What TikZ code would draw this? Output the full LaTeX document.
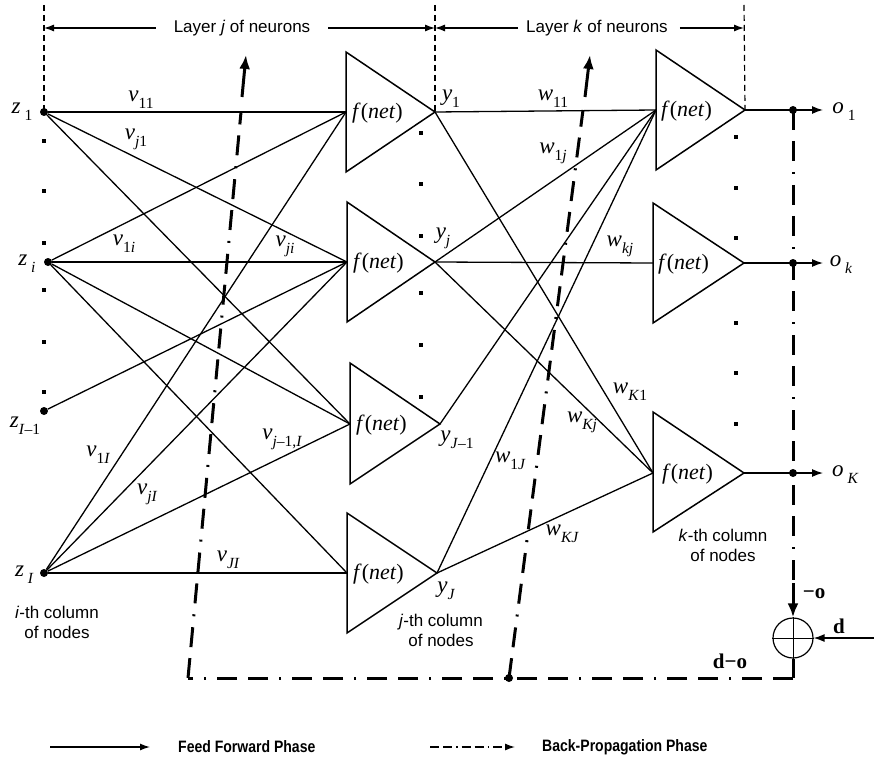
\documentclass[tikz,border=0pt]{standalone}
\usepackage{fontspec}
\setmainfont{Liberation Serif}
\setsansfont{Liberation Sans}
\usetikzlibrary{arrows.meta}
\newcommand\lsub[1]{\raisebox{-0.3em}{\fontsize{15.5}{16}\selectfont #1}}
\newcommand\fnet{f\textup{(}net\textup{)}}
\begin{document}
\begin{tikzpicture}[x=1pt,y=-1pt,
  conn/.style={line width=1.3pt},
  tri/.style={line width=1.5pt, line join=miter},
  bp/.style={line width=3pt, dash pattern=on 20pt off 11pt on 20pt off 11pt on 2pt off 11pt},
  vdash/.style={line width=1.2pt, dash pattern=on 6pt off 4pt},
  dimarr/.style={line width=1.2pt, -{Latex[length=10pt,width=7pt]}},
  outarr/.style={line width=1.3pt, -{Latex[length=11pt,width=8pt]}},
  thickarr/.style={line width=3pt, -{Latex[length=14pt,width=11pt]}},
  lab/.style={font=\fontsize{23}{25}\selectfont\itshape, inner sep=0pt},
  fn/.style={font=\fontsize{22}{24}\selectfont\itshape, inner sep=0pt, anchor=west},
  sans/.style={font=\fontsize{17}{20}\selectfont\sffamily, inner sep=0pt, align=center},
  blab/.style={font=\fontsize{21}{24}\selectfont\bfseries, inner sep=0pt},
  legtext/.style={font=\fontsize{16.5}{18}\selectfont\sffamily\bfseries, inner sep=0pt, anchor=west},
  dot/.style={circle, fill, inner sep=0pt, minimum size=8pt},
  sq/.style={rectangle, fill, inner sep=0pt, minimum size=4pt}]
\useasboundingbox (0,0) rectangle (874,759);

% ---------- input nodes ----------
\node[dot] (z1) at (44,112) {};
\node[dot] (zi) at (48,262) {};
\node[dot] (zIm) at (44,411) {};
\node[dot] (zI) at (44,573) {};
\node[lab] (lz1) at (22,112) {z\,\lsub{\textup{1}}};
\node[lab] (lzi) at (27,264) {z\,\lsub{i}};
\node[lab] (lzIm) at (25,426) {z\lsub{I\textup{–1}}};
\node[lab] (lzI) at (24,575) {z\,\lsub{I}};
\foreach \yy [count=\n] in {141,191,243,290,342,392} \node[sq] (dl\n) at (44,\yy) {};

% ---------- layer j triangles ----------
\coordinate (T1in) at (346,112); \coordinate (Y1) at (435,112);
\coordinate (T2in) at (347,262); \coordinate (Yj) at (435,262);
\coordinate (T3in) at (350,424); \coordinate (YJm) at (440,424);
\coordinate (T4in) at (347,573); \coordinate (YJ) at (437,573);
\draw[tri] (346,52) -- (Y1) -- (346,172) -- cycle;
\draw[tri] (347,202) -- (Yj) -- (347,322) -- cycle;
\draw[tri] (350,363) -- (YJm) -- (350,484) -- cycle;
\draw[tri] (347,513) -- (YJ) -- (347,633) -- cycle;
\node[fn] (f1) at (352,113) {\fnet};
\node[fn] (f2) at (353,263) {\fnet};
\node[fn] (f3) at (356,425) {\fnet};
\node[fn] (f4) at (353,574) {\fnet};
\foreach \yy [count=\n] in {133,184,236,293,345,397} \node[sq] (dj\n) at (421,\yy) {};

% ---------- layer k triangles ----------
\coordinate (K1in) at (656,110); \coordinate (O1) at (745,110);
\coordinate (Kkin) at (653,263); \coordinate (Ok) at (744,263);
\coordinate (KKin) at (653,473); \coordinate (OK) at (744,473);
\draw[tri] (656,50) -- (O1) -- (656,170) -- cycle;
\draw[tri] (653,203) -- (Ok) -- (653,323) -- cycle;
\draw[tri] (653,412) -- (OK) -- (653,532) -- cycle;
\node[fn] (g1) at (661,111) {\fnet};
\node[fn] (g2) at (658,264) {\fnet};
\node[fn] (g3) at (662,474) {\fnet};
\foreach \yy [count=\n] in {137,188,238,323,373,424} \node[sq] (dk\n) at (736,\yy) {};

% ---------- first layer connections ----------
\draw[conn] (z1) -- (T1in); \draw[conn] (z1) -- (T2in); \draw[conn] (z1) -- (T3in);
\draw[conn] (zi) -- (T1in); \draw[conn] (zi) -- (T2in); \draw[conn] (zi) -- (T3in); \draw[conn] (zi) -- (T4in);
\draw[conn] (zIm) -- (T2in);
\draw[conn] (zI) -- (T1in); \draw[conn] (zI) -- (T2in); \draw[conn] (zI) -- (T3in); \draw[conn] (zI) -- (T4in);

% ---------- second layer connections ----------
\draw[conn] (Y1) -- (K1in); \draw[conn] (Y1) -- (KKin);
\draw[conn] (Yj) -- (K1in); \draw[conn] (Yj) -- (Kkin); \draw[conn] (Yj) -- (KKin);
\draw[conn] (YJm) -- (K1in);
\draw[conn] (YJ) -- (K1in); \draw[conn] (YJ) -- (KKin);

% ---------- weight labels ----------
\node[lab] (v11) at (141,100) {v\lsub{\textup{11}}};
\node[lab] (vj1) at (136,139) {v\lsub{j\textup{1}}};
\node[lab] (v1i) at (124,244) {v\lsub{\textup{1}i}};
\node[lab] (vji) at (285,246) {v\lsub{ji}};
\node[lab] (v1I) at (98,455) {v\lsub{\textup{1}I}};
\node[lab] (vjI) at (147,494) {v\lsub{jI}};
\node[lab] (vjmI) at (282,439) {v\lsub{j\textup{–1,}I}};
\node[lab] (vJI) at (228,560) {v\lsub{JI}};
\node[lab] (w11) at (553,99) {w\lsub{\textup{11}}};
\node[lab] (w1j) at (553,153) {w\lsub{\textup{1}j}};
\node[lab] (wkj) at (620,246) {w\lsub{kj}};
\node[lab] (wK1) at (630,392) {w\lsub{K\textup{1}}};
\node[lab] (wKj) at (582,422) {w\lsub{Kj}};
\node[lab] (w1J) at (510,461) {w\lsub{\textup{1}J}};
\node[lab] (wKJ) at (562,534) {w\lsub{KJ}};
\node[lab] (ly1) at (451,99) {y\lsub{\textup{1}}};
\node[lab] (lyj) at (443,238) {y\lsub{j}};
\node[lab] (lyJm) at (457,440) {y\lsub{J\textup{–1}}};
\node[lab] (lyJ) at (446,591) {y\lsub{J}};

% ---------- outputs ----------
\coordinate (e1) at (823,110); \coordinate (ek) at (823,263); \coordinate (eK) at (823,473);
\draw[outarr] (O1) -- (e1); \draw[outarr] (Ok) -- (ek); \draw[outarr] (OK) -- (eK);
\node[lab] (lo1) at (844,112) {o\,\lsub{\textup{1}}};
\node[lab] (lok) at (841,265) {o\,\lsub{k}};
\node[lab] (loK) at (845,475) {o\,\lsub{K}};

% ---------- layer annotations ----------
\draw[vdash] (44,5) -- (z1.center);
\draw[vdash] (435,5) -- (Y1);
\draw[vdash] (744,5) -- (O1);
\node[sans] (layj) at (242,28) {Layer \textit{j} of neurons};
\node[sans] (layk) at (597,28) {Layer \textit{k} of neurons};
\coordinate (a1) at (44,28); \coordinate (a2) at (435,28); \coordinate (a3) at (744,28);
\draw[dimarr] ([xshift=-18pt]layj.west) -- (a1);
\draw[dimarr] ([xshift=18pt]layj.east) -- (a2);
\draw[dimarr] ([xshift=-8pt]layk.west) -- (a2);
\draw[dimarr] ([xshift=12pt]layk.east) -- (a3);

% ---------- column captions ----------
\node[sans] (ci) at (57,622) {\textit{i}-th column\\of nodes};
\node[sans] (cj) at (441,630) {\textit{j}-th column\\of nodes};
\node[sans] (ck) at (723,545) {\textit{k}-th column\\of nodes};

% ---------- back-propagation ----------
\coordinate (b1) at (793,110); \coordinate (b2) at (793,583);
\node[circle, draw, line width=1.2pt, minimum size=40pt, inner sep=0pt] (sum) at (793,638) {};
\draw[line width=1pt] (sum.north) -- (sum.south) (sum.west) -- (sum.east);
\draw[bp] (b1) -- (b2);
\draw[thickarr] (b2) -- (sum.north);
\coordinate (bc) at (793,678); \coordinate (bl) at (188,678);
\draw[line width=3pt] (sum.south) -- (bc);
\draw[bp] (bc) -- (bl);
\node[dot] (bm) at (509,678) {};
\coordinate (t1) at (241,112); \coordinate (t2) at (583,110);
\draw[bp] (bl) -- (t1);
\draw[bp] (bm.center) -- (t2);
\coordinate (u1a) at (242,97); \coordinate (u1b) at (246,55);
\coordinate (u2a) at (585,97); \coordinate (u2b) at (590,55);
\draw[thickarr] (u1a) -- (u1b);
\draw[thickarr] (u2a) -- (u2b);
\node[dot] (j1) at (b1) {};
\node[dot] (jk) at (793,263) {};
\node[dot] (jK) at (793,473) {};
\coordinate (din) at (874,638);
\draw[outarr] (din) -- (sum.east);
\node[blab] (lmo) at (814,594) {−o};
\node[blab] (ld) at (839,626) {d};
\node[blab] (ldo) at (730,661) {d−o};

% ---------- legend ----------
\coordinate (l1a) at (50,747); \coordinate (l1b) at (150,747);
\coordinate (l2a) at (430,747); \coordinate (l2b) at (515,747);
\draw[line width=1.3pt, -{Latex[length=10pt,width=7pt]}] (l1a) -- (l1b);
\draw[line width=1.3pt, dash pattern=on 9pt off 4pt on 9pt off 4pt on 1.5pt off 4pt, -{Latex[length=10pt,width=7pt]}] (l2a) -- (l2b);
\node[legtext] (leg1) at (178,747) {\scalebox{0.85}[1]{Feed Forward Phase}};
\node[legtext] (leg2) at (542,747) {\scalebox{0.85}[1]{Back-Propagation Phase}};
\end{tikzpicture}
\end{document}
